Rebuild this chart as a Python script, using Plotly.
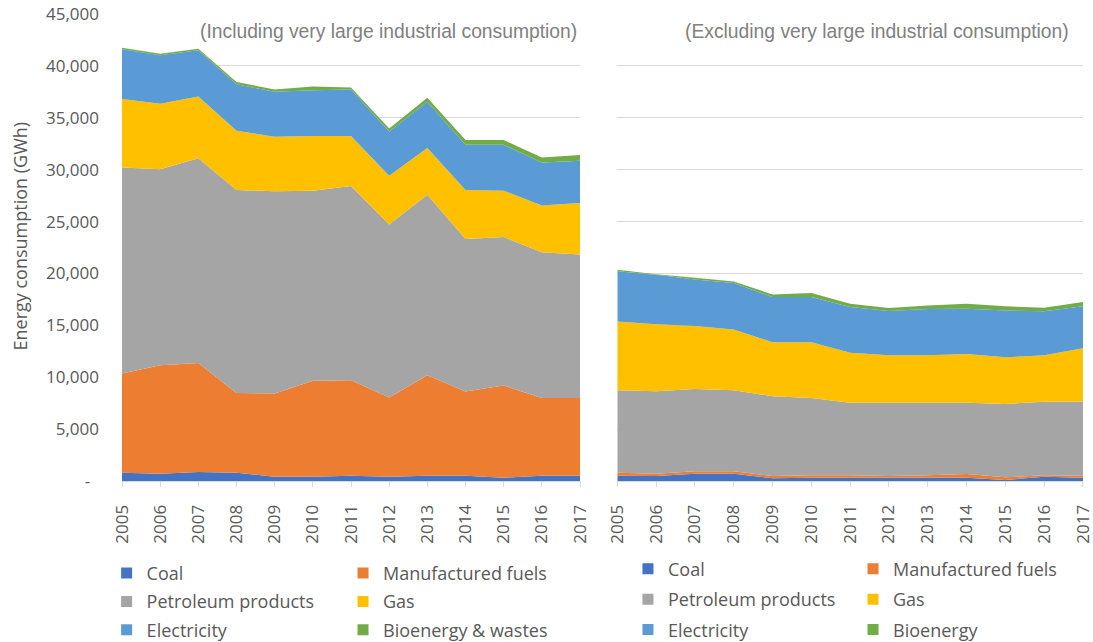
import plotly.graph_objects as go

years = [2005, 2006, 2007, 2008, 2009, 2010, 2011, 2012, 2013, 2014, 2015, 2016, 2017]
y_ticks = [0, 5000, 10000, 15000, 20000, 25000, 30000, 35000, 40000, 45000]
y_tick_text = ["-\u00a0\u00a0", "5,000", "10,000", "15,000", "20,000", "25,000",
               "30,000", "35,000", "40,000", "45,000"]

# Including very large industrial consumption (GWh)
inc_coal = [800, 700, 870, 800, 410, 410, 510, 410, 510, 510, 320, 510, 510]
inc_manufactured = [9550, 10450, 10510, 7690, 8020, 9240, 9200, 7630, 9680, 8110, 8880, 7500, 7500]
inc_petroleum = [19870, 18880, 19710, 19560, 19480, 18330, 18720, 16670, 17400, 14710, 14320, 14040, 13820]
inc_gas = [6580, 6320, 5960, 5700, 5260, 5260, 4810, 4710, 4490, 4720, 4460, 4490, 4960]
inc_electricity = [4800, 4670, 4450, 4480, 4330, 4420, 4480, 4260, 4460, 4350, 4420, 4160, 4070]
inc_bioenergy = [160, 160, 160, 230, 220, 350, 190, 290, 380, 450, 450, 480, 550]

# Excluding very large industrial consumption (GWh)
exc_coal = [510, 480, 700, 700, 260, 320, 320, 320, 320, 320, 100, 410, 320]
exc_manufactured = [290, 220, 230, 230, 220, 225, 225, 160, 225, 350, 250, 135, 190]
exc_petroleum = [7950, 7950, 7940, 7820, 7690, 7465, 6985, 7050, 6985, 6860, 7080, 7085, 7150]
exc_gas = [6630, 6450, 6060, 5860, 5190, 5350, 4840, 4580, 4580, 4710, 4490, 4480, 5130]
exc_electricity = [4840, 4770, 4490, 4460, 4360, 4360, 4390, 4260, 4460, 4360, 4520, 4240, 4040]
exc_bioenergy = [130, 60, 160, 160, 260, 390, 320, 290, 350, 480, 390, 350, 410]

inc_names = ["Coal", "Manufactured fuels", "Petroleum products", "Gas", "Electricity", "Bioenergy & wastes"]
exc_names = ["Coal", "Manufactured fuels", "Petroleum products", "Gas", "Electricity", "Bioenergy"]
colors = ["#4472C4", "#ED7D31", "#A5A5A5", "#FFC000", "#5B9BD5", "#70AD47"]

inc_series = [inc_coal, inc_manufactured, inc_petroleum, inc_gas, inc_electricity, inc_bioenergy]
exc_series = [exc_coal, exc_manufactured, exc_petroleum, exc_gas, exc_electricity, exc_bioenergy]

fig = go.Figure()

panels = [("x", "y", inc_series, inc_names, "inc", ["legend", "legend2"]),
          ("x2", "y2", exc_series, exc_names, "exc", ["legend3", "legend4"])]

for xa, ya, series, names, grp, legs in panels:
    for i, (vals, name, col) in enumerate(zip(series, names, colors)):
        fig.add_trace(go.Scatter(
            x=years, y=vals, name=name, xaxis=xa, yaxis=ya,
            stackgroup=grp, mode="none", fillcolor=col,
            line=dict(width=0, color=col), showlegend=False,
            hovertemplate=name + ": %{y:,.0f}<extra></extra>"))
    # legend swatches (square markers, no data)
    for i, (name, col) in enumerate(zip(names, colors)):
        fig.add_trace(go.Scatter(
            x=[None], y=[None], name=name, xaxis=xa, yaxis=ya,
            mode="markers", marker=dict(symbol="square", size=11, color=col),
            legend=legs[i % 2], legendgroup=grp + name, showlegend=True))

tick_font = dict(family="Open Sans", size=17, color="#595959")
grid_col = "#D9D9D9"

xaxis_common = dict(
    range=[2005, 2017], tickmode="array", tickvals=years, ticktext=[str(y) for y in years],
    tickangle=-90, tickfont=tick_font, showgrid=False, zeroline=False,
    showline=True, linecolor=grid_col, linewidth=1, ticklabeloverflow="allow",
    ticks="outside", ticklen=5, tickcolor=grid_col, ticklabelstandoff=11)
yaxis_common = dict(
    range=[0, 45001], tickmode="array", tickvals=y_ticks, ticktext=y_tick_text,
    showgrid=True, gridcolor=grid_col, gridwidth=1, zeroline=False, showline=False,
    tickfont=tick_font, ticks="", ticklabeloverflow="allow")

legend_common = dict(orientation="v", bgcolor="rgba(0,0,0,0)", borderwidth=0,
                     font=dict(family="Open Sans", size=18, color="#595959"),
                     xanchor="left", yanchor="top", itemwidth=30, traceorder="grouped")

fig.update_layout(
    width=1093, height=642,
    margin=dict(l=122, r=10, t=14, b=161, autoexpand=False),
    paper_bgcolor="white", plot_bgcolor="white",
    showlegend=True,
    xaxis=dict(domain=[0, 0.4766], anchor="y", **xaxis_common),
    xaxis2=dict(domain=[0.5154, 1], anchor="y2", **xaxis_common),
    yaxis=dict(domain=[0, 1], anchor="x", ticklabelstandoff=22, **yaxis_common),
    yaxis2=dict(domain=[0, 1], anchor="x2", showticklabels=False, **yaxis_common),
    legend=dict(x=-0.016, y=-0.158, tracegroupgap=2, **legend_common),
    legend2=dict(x=0.23, y=-0.158, tracegroupgap=2, **legend_common),
    legend3=dict(x=0.5265, y=-0.149, tracegroupgap=4, **legend_common),
    legend4=dict(x=0.7607, y=-0.149, tracegroupgap=4, **legend_common),
    annotations=[
        dict(text="Energy consumption (GWh)", xref="paper", yref="paper",
             x=-0.1061, y=0.5236, xanchor="center", yanchor="middle", textangle=-90,
             showarrow=False, font=dict(family="Open Sans", size=18, color="#595959")),
        dict(text="(Including very large industrial consumption)", xref="x domain", yref="y domain",
             x=1, y=0.962, xanchor="right", yanchor="middle", showarrow=False, xshift=-1,
             font=dict(family="Liberation Sans, Arial", size=19.3, color="#808080")),
        dict(text="(Excluding very large industrial consumption)", xref="x2 domain", yref="y2 domain",
             x=1, y=0.962, xanchor="right", yanchor="middle", showarrow=False, xshift=-12,
             font=dict(family="Liberation Sans, Arial", size=19.3, color="#808080")),
    ],
)

# remove the browser's default 8px body margin so the figure fills the window
fig.write_html("out.html", config={"displayModeBar": False},
               post_script="document.body.style.margin='0';")
